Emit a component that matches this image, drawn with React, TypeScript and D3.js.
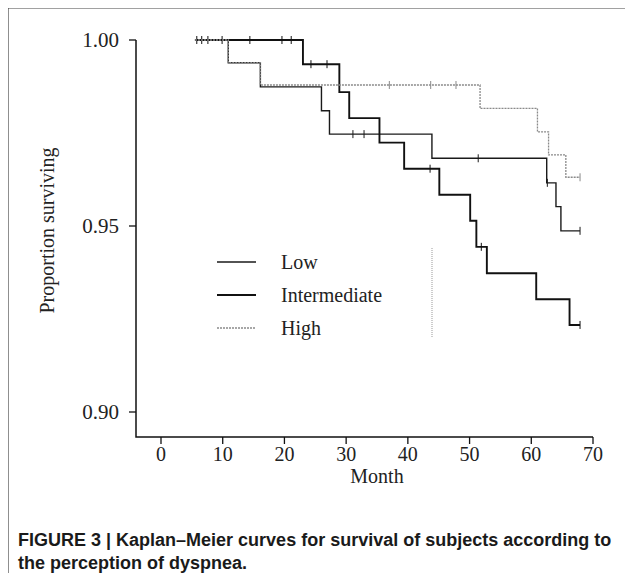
import React from 'react';
import * as d3 from 'd3';

// Kaplan-Meier steps: [month, survival after the event]
const lowSteps: [number, number][] = [
  [5.5, 1.0], [10.9, 0.9939], [16.1, 0.9874], [26.0, 0.981], [27.3, 0.9747],
  [43.9, 0.9682], [62.5, 0.9616], [64.0, 0.9552], [64.8, 0.9487], [67.9, 0.9487],
];
const lowCensored = [31.1, 32.9, 51.4, 62.6, 67.9];

const intermediateSteps: [number, number][] = [
  [5.5, 1.0], [23.0, 0.9935], [28.9, 0.986], [30.5, 0.979], [35.4, 0.9724],
  [39.4, 0.9654], [45.1, 0.9584], [50.1, 0.9514], [51.1, 0.9444], [52.8, 0.9373],
  [60.8, 0.9303], [66.2, 0.9234], [67.9, 0.9234],
];
const intermediateCensored = [5.8, 6.6, 7.6, 9.9, 14.4, 19.6, 21.1, 24.3, 26.9, 43.6, 51.9, 67.9];

const highSteps: [number, number][] = [
  [5.5, 1.0], [10.9, 0.9939], [16.1, 0.9879], [51.7, 0.9816], [61.0, 0.9753],
  [62.8, 0.9691], [65.6, 0.9631], [67.9, 0.9631],
];
const highCensored = [37, 43.7, 47.8, 67.9];

const xTicks = [0, 10, 20, 30, 40, 50, 60, 70];
const yTicks = [0.9, 0.95, 1.0];
const legendLabels = ['Low', 'Intermediate', 'High'];

const W = 633;
const H = 581;
const serif = '"Liberation Serif", "Times New Roman", serif';
const fs = 20;

const x = d3.scaleLinear().domain([0, 70]).range([161, 593]);
const y = d3.scaleLinear().domain([0.9, 1.0]).range([412, 40]);
const axisX = 136;
const axisY = 437;

const stepLine = d3
  .line<[number, number]>()
  .x((d) => x(d[0]))
  .y((d) => y(d[1]))
  .curve(d3.curveStepAfter);

// survival value of a step curve at time t
const survAt = (steps: [number, number][], t: number) => {
  let s = steps[0][1];
  for (const [tt, v] of steps) if (tt <= t) s = v;
  return s;
};

const groups = [
  { steps: lowSteps, censored: lowCensored, color: '#1a1a1a', width: 1.4, dash: '' },
  { steps: intermediateSteps, censored: intermediateCensored, color: '#111', width: 1.9, dash: '' },
  { steps: highSteps, censored: highCensored, color: '#8a8a8a', width: 1.3, dash: '2,1' },
];

export default function App() {
  return (
    <svg width={W} height={H} style={{ display: 'block', margin: '-8px', background: '#fff' }}>
      {/* frame */}
      <line x1={8} y1={8} x2={W} y2={8} stroke="#444" strokeWidth={1.2} />
      <line x1={8} y1={8} x2={8} y2={H} stroke="#444" strokeWidth={1.2} />

      {/* axes */}
      <path
        d={`M${axisX},${y(1.0)}V${axisY}H${x(70)}`}
        fill="none"
        stroke="#111"
        strokeWidth={1.5}
      />
      {yTicks.map((t) => (
        <g key={t}>
          <line x1={axisX - 7} x2={axisX} y1={y(t)} y2={y(t)} stroke="#111" strokeWidth={1.3} />
          <text
            x={axisX - 17}
            y={y(t)}
            dy="0.35em"
            textAnchor="end"
            fontFamily={serif}
            fontSize={21}
            fill="#222"
          >
            {d3.format('.2f')(t)}
          </text>
        </g>
      ))}
      {xTicks.map((t) => (
        <g key={t}>
          <line x1={x(t)} x2={x(t)} y1={axisY} y2={axisY + 7} stroke="#111" strokeWidth={1.3} />
          <text x={x(t)} y={axisY + 24} textAnchor="middle" fontFamily={serif} fontSize={fs} fill="#222">
            {t}
          </text>
        </g>
      ))}
      <text x={x(35) + 0} y={axisY + 46} textAnchor="middle" fontFamily={serif} fontSize={fs} fill="#222">
        Month
      </text>
      <text
        transform={`translate(54,${(y(1.0) + axisY) / 2 - 8}) rotate(-90)`}
        textAnchor="middle"
        fontFamily={serif}
        fontSize={fs}
        fill="#222"
      >
        Proportion surviving
      </text>

      {/* curves */}
      {groups.map((g, i) => (
        <g key={i}>
          <path
            d={stepLine(g.steps) || ''}
            fill="none"
            stroke={g.color}
            strokeWidth={g.width}
            strokeDasharray={g.dash}
          />
          {g.censored.map((c, j) => {
            const cy = y(survAt(g.steps, c));
            return (
              <line key={j} x1={x(c)} x2={x(c)} y1={cy - 4} y2={cy + 4} stroke={g.color} strokeWidth={1} />
            );
          })}
        </g>
      ))}

      {/* legend */}
      {legendLabels.map((l, i) => {
        const g = groups[i];
        const ly = 262 + i * 33;
        return (
          <g key={l}>
            <line x1={217} x2={256} y1={ly} y2={ly} stroke={g.color} strokeWidth={g.width} strokeDasharray={g.dash} />
            <text x={281} y={ly} dy="0.35em" fontFamily={serif} fontSize={fs} fill="#222">
              {l}
            </text>
          </g>
        );
      })}
      <line x1={432} x2={432} y1={248} y2={338} stroke="#999" strokeWidth={1} strokeDasharray="1,1" />

      {/* caption */}
      <text fontFamily='"Liberation Sans", Arial, sans-serif' fontWeight="bold" fontSize={18} fill="#1a1a1a">
        <tspan x={18} y={546}>FIGURE 3 | Kaplan–Meier curves for survival of subjects according to</tspan>
        <tspan x={18} y={569}>the perception of dyspnea.</tspan>
      </text>
    </svg>
  );
}
